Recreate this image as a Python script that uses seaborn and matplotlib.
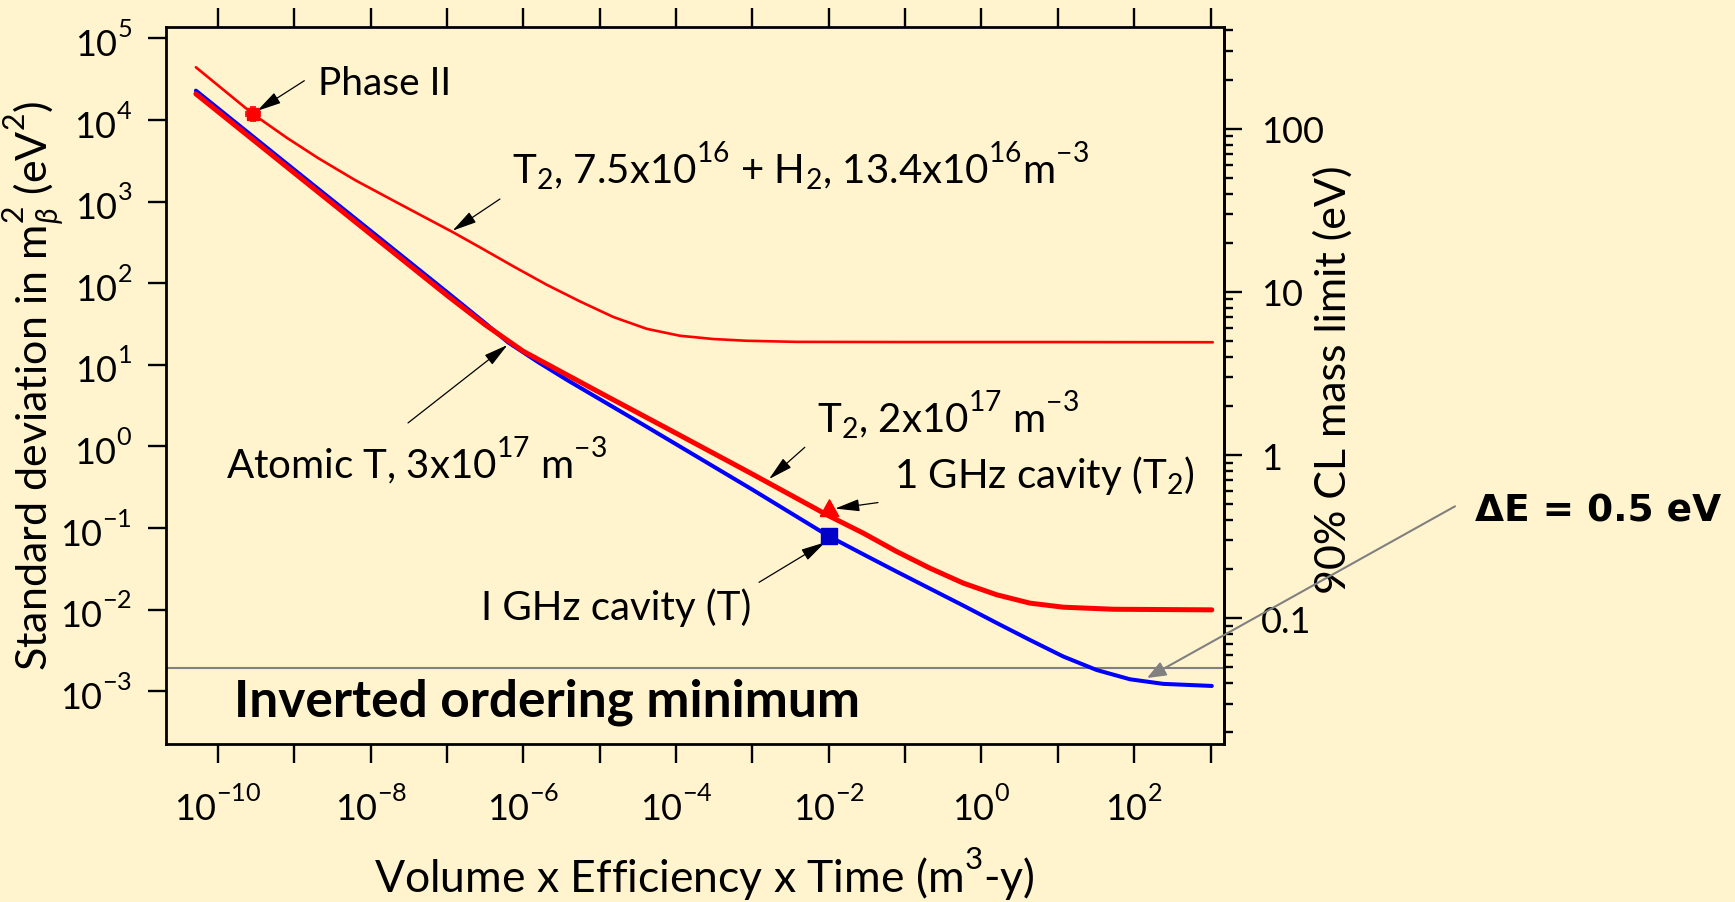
import numpy as np
import pandas as pd
import matplotlib
matplotlib.use("Agg")
import matplotlib.pyplot as plt
import matplotlib.ticker as mticker
import matplotlib._mathtext as mathtext_internals
import seaborn as sns

# Exposure (m^3-y) and standard deviation of m_beta^2 (eV^2) for each source option
t2h2_exposure = [5.13e-11, 2.86e-10, 7.94e-10, 2.05e-9, 6.31e-9, 2.22e-8, 1.18e-7, 2.70e-7,
                 7.38e-7, 2.02e-6, 5.51e-6, 1.51e-5, 4.12e-5, 1.12e-4, 3.07e-4, 8.39e-4,
                 3.80e-3, 1e-1, 1e1, 1.07e3]
t2h2_sigma = [44300, 11860, 6067, 3412, 1824, 971, 424, 275,
              161, 95.7, 59.8, 38.5, 27.6, 22.7, 20.7, 19.7,
              19.1, 19.0, 19.0, 18.9]

t2_exposure = [5.13e-11, 1e-9, 1e-8, 1e-7, 3.16e-7, 1e-6, 1e-5, 1e-4, 1e-3, 1e-2,
               2.83e-2, 7.74e-2, 0.211, 0.578, 1.58, 4.32, 11.8, 53.2, 1040]
t2_sigma = [20900, 2240, 398, 70.8, 30.9, 14.6, 4.57, 1.45, 0.457, 0.141,
            0.0865, 0.0515, 0.0322, 0.0211, 0.0152, 0.0120, 0.0107, 0.0101, 0.00993]

atomic_exposure = [5.13e-11, 1e-9, 1e-8, 1e-7, 3.16e-7, 6.31e-7, 1.58e-6, 3.79e-6, 3.80e-5,
                   1e-3, 1e-2, 2.83e-2, 7.74e-2, 0.211, 0.578, 1.58, 4.32, 11.8, 32.2,
                   88.1, 240, 1040]
atomic_sigma = [22900, 2450, 437, 77.6, 32.4, 18.8, 10.7, 6.46, 1.82,
                0.295, 0.0794, 0.0476, 0.0292, 0.0181, 0.0112, 0.00686, 0.00424, 0.00266, 0.00182,
                0.00140, 0.00123, 0.00116]

# Single reference points
phase2_exposure, phase2_sigma = 2.86e-10, 11860
phase2_xerr = [[5.4e-11], [6.7e-11]]
phase2_yerr = [[2100], [2600]]
cavity_t2_exposure, cavity_t2_sigma = 1e-2, 0.141
cavity_t_exposure, cavity_t_sigma = 1e-2, 0.0794
inverted_ordering_min = 0.0019

# Tick values
x_decades = list(range(-10, 4))
y_decades = list(range(-3, 6))
mass_ticks = [0.1, 1, 10, 100]

BG = "#FFF4CD"

# Raise superscripts a little higher than the mathtext default
if hasattr(mathtext_internals, "FontConstantsBase"):
    mathtext_internals.FontConstantsBase.sup1 = 1.0

sns.set_theme(style="ticks")
plt.rcParams.update({
    "font.family": ["Lato", "DejaVu Sans"],
    "mathtext.fontset": "custom",
    "mathtext.rm": "Lato",
    "mathtext.it": "Lato:italic",
    "mathtext.bf": "Lato:bold",
    "axes.edgecolor": "black",
    "axes.labelcolor": "black",
    "text.color": "black",
    "xtick.color": "black",
    "ytick.color": "black",
    "axes.linewidth": 2.0,
})

fig = plt.figure(figsize=(17.35, 9.03), dpi=100, facecolor=BG)
ax = fig.add_axes([165.5 / 1735, 1 - 745 / 903, (1223.5 - 165.5) / 1735, (745 - 28.3) / 903])
ax.set_facecolor(BG)
ax.set_xscale("log")
ax.set_yscale("log")
ax.set_xlim(10 ** -10.688, 10 ** 3.170)
ax.set_ylim(10 ** -3.647, 10 ** 5.136)

# Curves
sns.lineplot(x=t2h2_exposure, y=t2h2_sigma, ax=ax, color="#FF0000", lw=1.9,
             estimator=None, sort=False, legend=False)
sns.lineplot(x=atomic_exposure, y=atomic_sigma, ax=ax, color="#0000FF", lw=2.9,
             estimator=None, sort=False, legend=False)
sns.lineplot(x=t2_exposure, y=t2_sigma, ax=ax, color="#FF0000", lw=3.6,
             estimator=None, sort=False, legend=False)

ax.axhline(inverted_ordering_min, color="#808080", lw=1.5, zorder=1.5)

# Markers
ax.errorbar([phase2_exposure], [phase2_sigma], xerr=phase2_xerr, yerr=phase2_yerr,
            fmt="s", color="#FF0000", ms=8, capsize=2.5, elinewidth=1.2, capthick=1.2, zorder=4)
base_triangle = [(-1, 0), (1, 0), (0, 1.8), (-1, 0)]
ax.plot([cavity_t2_exposure], [cavity_t2_sigma], ls="none", marker=base_triangle, ms=24,
        color="#FF0000", mec="#FF0000", zorder=4)
ax.plot([cavity_t_exposure], [cavity_t_sigma], ls="none", marker="s", ms=11,
        color="#0000C8", mec="#0000C8", zorder=4)

# Axis ticks
ax.xaxis.set_major_locator(mticker.FixedLocator([10.0 ** e for e in x_decades]))
ax.xaxis.set_minor_locator(mticker.NullLocator())


def x_label_fmt(v, pos):
    e = int(round(np.log10(v)))
    return r"$\mathdefault{10^{%d}}$" % e if e % 2 == 0 else ""


ax.xaxis.set_major_formatter(mticker.FuncFormatter(x_label_fmt))
ax.yaxis.set_major_locator(mticker.FixedLocator([10.0 ** e for e in y_decades]))
ax.yaxis.set_minor_locator(mticker.NullLocator())
ax.yaxis.set_major_formatter(mticker.FuncFormatter(
    lambda v, p: r"$\mathdefault{10^{%d}}$" % int(round(np.log10(v)))))
ax.tick_params(axis="x", which="major", direction="out", length=13.5, width=1.7,
               top=True, bottom=True, labelsize=26, pad=16)
ax.tick_params(axis="y", which="major", direction="out", length=13, width=1.7,
               left=True, right=False, labelsize=26, pad=11)

# Right axis: 90% CL mass limit
sec = ax.secondary_yaxis("right", functions=(lambda s: np.sqrt(1.28 * np.clip(s, 1e-300, None)),
                                             lambda m: m ** 2 / 1.28))
sec.yaxis.set_major_locator(mticker.FixedLocator(mass_ticks))
sec.yaxis.set_major_formatter(mticker.FuncFormatter(lambda v, p: "%g" % v))
sec.yaxis.set_minor_locator(mticker.LogLocator(base=10, subs=np.arange(2, 10), numticks=50))
sec.yaxis.set_minor_formatter(mticker.NullFormatter())
sec.tick_params(which="major", direction="out", length=13, width=1.7, labelsize=26, pad=14)
sec.tick_params(which="minor", direction="out", length=6.5, width=1.7)
sec.spines["right"].set_linewidth(2.0)

# Axis labels
ax.set_xlabel(r"Volume x Efficiency x Time (m$^{\mathdefault{3}}$-y)", fontsize=32)
ax.set_ylabel(r"Standard deviation in m$_{\beta}^{\mathdefault{2}}$ (eV$^{\mathdefault{2}}$)",
              fontsize=31)
sec.set_ylabel("90% CL mass limit (eV)", fontsize=31)
ax.xaxis.set_label_coords(0.509, -0.141)
ax.yaxis.set_label_coords(-0.0937, 0.502)
sec.yaxis.set_label_coords(1.0846, 0.509, transform=ax.transAxes)

# Annotations
arrow_kw = dict(arrowstyle="-|>,head_length=1.0,head_width=0.25", color="black", lw=0.9,
                mutation_scale=15, shrinkA=0, shrinkB=0)
txt_size = 29

ax.annotate("", xy=(3.24e-10, 12900), xytext=(1.35e-9, 30300), arrowprops=arrow_kw)
ax.text(2.02e-9, 20800, "Phase II", fontsize=28, va="baseline")

ax.annotate("", xy=(1.18e-7, 440), xytext=(4.93e-7, 1076), arrowprops=arrow_kw)
ax.text(7.1e-7, 1726,
        r"T$_{\mathdefault{2}}$, 7.5x10$^{\mathdefault{16}}$ + H$_{\mathdefault{2}}$, "
        r"13.4x10$^{\mathdefault{16}}$m$^{\mathdefault{-3}}$",
        fontsize=txt_size, va="baseline")

ax.annotate("", xy=(6.19e-7, 17.5), xytext=(3.08e-8, 1.94), arrowprops=arrow_kw)
ax.text(1.26e-10, 0.422, r"Atomic T, 3x10$^{\mathdefault{17}}$ m$^{\mathdefault{-3}}$",
        fontsize=txt_size, va="baseline")

ax.annotate("", xy=(1.65e-3, 0.398), xytext=(4.85e-3, 0.975), arrowprops=arrow_kw)
ax.text(7.0e-3, 1.556, r"T$_{\mathdefault{2}}$, 2x10$^{\mathdefault{17}}$ m$^{\mathdefault{-3}}$",
        fontsize=txt_size, va="baseline")

ax.annotate("", xy=(0.0121, 0.173), xytext=(0.0441, 0.205), arrowprops=arrow_kw)
ax.text(0.0714, 0.315, r"1 GHz cavity (T$_{\mathdefault{2}}$)", fontsize=txt_size, va="baseline")

ax.annotate("", xy=(8.97e-3, 0.0668), xytext=(1.22e-3, 0.0216), arrowprops=arrow_kw)
ax.text(2.79e-7, 0.00767, "I GHz cavity (T)", fontsize=txt_size, va="baseline")

ax.text(1.62e-10, 5.0e-4, "Inverted ordering minimum", fontsize=37, fontweight="bold",
        va="baseline")

ax.annotate("", xy=(147, 0.00145), xycoords="data",
            xytext=(1455 / 1735, 1 - 507.3 / 903), textcoords="figure fraction",
            arrowprops=dict(arrowstyle="-|>,head_length=0.75,head_width=0.3", color="#808080",
                            lw=1.5, mutation_scale=15, shrinkA=0, shrinkB=0),
            annotation_clip=False)
fig.text(1475 / 1735, 1 - 521.7 / 903, "ΔE = 0.5 eV", fontsize=27, fontweight="bold",
         family="DejaVu Sans", va="baseline")

fig.savefig("out.png", dpi=100, facecolor=BG)
